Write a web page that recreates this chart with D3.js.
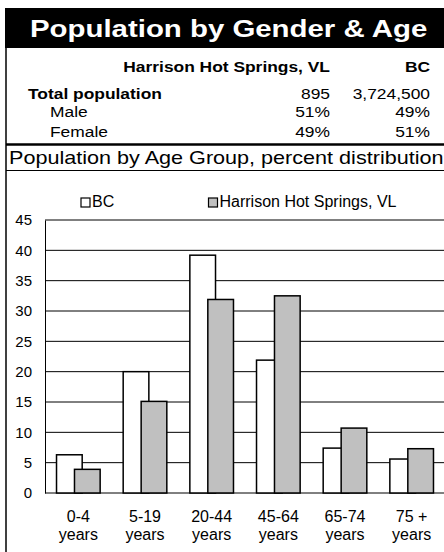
<!DOCTYPE html>
<html>
<head>
<meta charset="utf-8">
<script src="https://cdn.jsdelivr.net/npm/d3@7"></script>
<style>
  body { margin: 0; background: #fff; }
  text { font-family: "Liberation Sans", Arial, sans-serif; }
</style>
</head>
<body>
<div id="chart"></div>
<script>
// table at the top
var areas = ["Harrison Hot Springs, VL", "BC"];
var tableRows = ["Total population", "Male", "Female"];
var tableValues = [["895", "3,724,500"], ["51%", "49%"], ["49%", "51%"]];

// age group chart
var ageGroups = [["0-4", "years"], ["5-19", "years"], ["20-44", "years"], ["45-64", "years"], ["65-74", "years"], ["75 +", "years"]];
var seriesNames = ["BC", "Harrison Hot Springs, VL"];
var bcValues = [6.3, 20.0, 39.2, 21.9, 7.4, 5.6];
var harrisonValues = [3.9, 15.1, 31.9, 32.5, 10.7, 7.3];
var yTicks = [0, 5, 10, 15, 20, 25, 30, 35, 40, 45];

var W = 444, H = 552;
var sx = 1.2; // the top block is drawn a bit wide

var svg = d3.select("#chart").append("svg")
    .attr("width", W).attr("height", H);

svg.append("rect").attr("width", W).attr("height", H).attr("fill", "#fff");

// stretched text helper
function wideText(x, y, str, size, weight, anchor, fill) {
    svg.append("text")
        .attr("transform", "translate(" + x + "," + y + ") scale(" + sx + ",1)")
        .attr("text-anchor", anchor || "start")
        .style("font-size", size + "px")
        .style("font-weight", weight || "normal")
        .attr("fill", fill || "#000")
        .text(str);
}

// title bar
svg.append("rect").attr("x", 5).attr("y", 8).attr("width", W - 5).attr("height", 40).attr("fill", "#000");
wideText(30, 37, "Population by Gender & Age", 24.5, "bold", "start", "#fff");

// table
var colEnds = [330, 430];
areas.forEach(function (a, i) {
    wideText(colEnds[i], 71.5, a, 14.5, "bold", "end");
});
var rowY = [99, 117, 137];
tableRows.forEach(function (r, i) {
    if (i == 0) wideText(28, rowY[i], r, 14.5, "bold");
    else wideText(50, rowY[i], r, 14.5);
    tableValues[i].forEach(function (v, j) {
        wideText(colEnds[j], rowY[i], v, 14.5, "normal", "end");
    });
});

// frame lines
svg.append("line").attr("x1", 6).attr("x2", 6).attr("y1", 48).attr("y2", H)
    .attr("stroke", "#000").attr("stroke-width", 1.5);
svg.append("line").attr("x1", 6).attr("x2", W).attr("y1", 144.5).attr("y2", 144.5)
    .attr("stroke", "#000").attr("stroke-width", 2.5);
svg.append("line").attr("x1", 6).attr("x2", W).attr("y1", 170.5).attr("y2", 170.5)
    .attr("stroke", "#000").attr("stroke-width", 1);

wideText(9, 163.5, "Population by Age Group, percent distribution", 18);

// chart
var plot = { left: 45, right: 445, top: 220, bottom: 493 };

var x = d3.scaleBand()
    .domain(ageGroups.map(function (d) { return d[0]; }))
    .range([plot.left, plot.right])
    .padding(0);

var y = d3.scaleLinear().domain([0, 45]).range([plot.bottom, plot.top]);

// gridlines
svg.append("g").selectAll("line")
    .data(yTicks)
    .enter().append("line")
    .attr("x1", plot.left).attr("x2", plot.right)
    .attr("y1", function (d) { return y(d); })
    .attr("y2", function (d) { return y(d); })
    .attr("stroke", "#000").attr("stroke-width", 1);

// y axis
var yAxis = svg.append("g")
    .attr("transform", "translate(" + plot.left + ",0)")
    .call(d3.axisLeft(y).tickValues(yTicks).tickSize(0).tickPadding(13));
yAxis.select(".domain").attr("stroke", "#000").attr("stroke-width", 1);
yAxis.selectAll("text").style("font-size", "15px")
    .style("font-family", "'Liberation Sans', Arial, sans-serif").attr("fill", "#000");

// bars
var barW = x.bandwidth() * 0.385;
var step = barW * 0.7;
var off = (x.bandwidth() - (barW + step)) / 2;

var series = [
    { name: seriesNames[0], values: bcValues, fill: "#fff" },
    { name: seriesNames[1], values: harrisonValues, fill: "#c0c0c0" }
];

series.forEach(function (s, si) {
    svg.append("g").selectAll("rect")
        .data(s.values)
        .enter().append("rect")
        .attr("x", function (d, i) { return x(ageGroups[i][0]) + off + si * step; })
        .attr("width", barW)
        .attr("y", function (d) { return y(d); })
        .attr("height", function (d) { return y(0) - y(d); })
        .attr("fill", s.fill)
        .attr("stroke", "#000")
        .attr("stroke-width", 1.5);
});

// x labels
var xl = svg.append("g").selectAll("text")
    .data(ageGroups)
    .enter().append("text")
    .attr("text-anchor", "middle")
    .style("font-size", "16px");
xl.append("tspan")
    .attr("x", function (d) { return x(d[0]) + x.bandwidth() / 2; })
    .attr("y", 521.5)
    .text(function (d) { return d[0]; });
xl.append("tspan")
    .attr("x", function (d) { return x(d[0]) + x.bandwidth() / 2; })
    .attr("y", 540)
    .text(function (d) { return d[1]; });

// legend
var legX = [81, 208.5];
var leg = svg.append("g").selectAll("g")
    .data(series)
    .enter().append("g")
    .attr("transform", function (d, i) { return "translate(" + legX[i] + ",198)"; });
leg.append("rect")
    .attr("width", 9).attr("height", 9)
    .attr("fill", function (d) { return d.fill; })
    .attr("stroke", "#000").attr("stroke-width", 1.2);
leg.append("text")
    .attr("x", 11).attr("y", 9)
    .style("font-size", "16px")
    .text(function (d) { return d.name; });
</script>
</body>
</html>
